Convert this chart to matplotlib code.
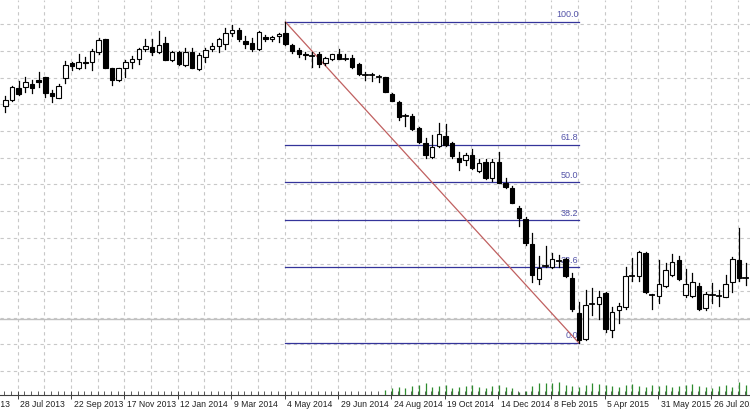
import numpy as np
import matplotlib
matplotlib.use("Agg")
import matplotlib.pyplot as plt
import matplotlib.transforms as mtransforms

# Weekly EURUSD candles, one per week starting 14 Jul 2013
opens = [1.3072, 1.3132, 1.3270, 1.3281, 1.3314, 1.3355, 1.3385, 1.3209, 1.3160, 1.3374,
         1.3539, 1.3484, 1.3556, 1.3556, 1.3666, 1.3803, 1.3484, 1.3355, 1.3484, 1.3550,
         1.3583, 1.3696, 1.3721, 1.3660, 1.3759, 1.3575, 1.3666, 1.3520, 1.3666, 1.3476,
         1.3605, 1.3696, 1.3732, 1.3748, 1.3869, 1.3905, 1.3784, 1.3765, 1.3693, 1.3825,
         1.3803, 1.3839, 1.3869, 1.3740, 1.3685, 1.3638, 1.3627, 1.3638, 1.3539, 1.3583,
         1.3638, 1.3594, 1.3594, 1.3528, 1.3413, 1.3410, 1.3396, 1.3385, 1.3198, 1.3116,
         1.2962, 1.2962, 1.2830, 1.2659, 1.2511, 1.2632, 1.2742, 1.2659, 1.2494, 1.2475,
         1.2530, 1.2357, 1.2456, 1.2274, 1.2456, 1.2219, 1.2164, 1.1944, 1.1823, 1.1551,
         1.1163, 1.1306, 1.1302, 1.1353, 1.1383, 1.1174, 1.0795, 1.0503, 1.0888, 1.0891,
         1.1009, 1.0605, 1.0825, 1.0855, 1.1196, 1.1199, 1.1449, 1.0987, 1.0979, 1.1089,
         1.1210, 1.1375, 1.0990, 1.0979, 1.1089, 1.0844, 1.0987, 1.0976, 1.0971, 1.1136,
         1.1375, 1.1169]
highs = [1.3182, 1.3289, 1.3344, 1.3391, 1.3355, 1.3446, 1.3391, 1.3245, 1.3308, 1.3564,
         1.3556, 1.3638, 1.3611, 1.3696, 1.3820, 1.3811, 1.3490, 1.3490, 1.3575, 1.3622,
         1.3710, 1.3806, 1.3803, 1.3894, 1.3825, 1.3674, 1.3677, 1.3704, 1.3710, 1.3649,
         1.3710, 1.3759, 1.3820, 1.3924, 1.3960, 1.3927, 1.3839, 1.3814, 1.3897, 1.3850,
         1.3842, 1.3875, 1.3993, 1.3748, 1.3704, 1.3660, 1.3666, 1.3660, 1.3611, 1.3641,
         1.3693, 1.3638, 1.3630, 1.3539, 1.3446, 1.3429, 1.3410, 1.3391, 1.3209, 1.3124,
         1.2978, 1.2978, 1.2841, 1.2714, 1.2750, 1.2879, 1.2868, 1.2676, 1.2566, 1.2555,
         1.2593, 1.2483, 1.2483, 1.2483, 1.2566, 1.2274, 1.2189, 1.1969, 1.1851, 1.1669,
         1.1419, 1.1529, 1.1449, 1.1430, 1.1394, 1.1235, 1.0916, 1.1045, 1.1064, 1.1037,
         1.1026, 1.0855, 1.0899, 1.1295, 1.1394, 1.1474, 1.1460, 1.1001, 1.1375, 1.1339,
         1.1438, 1.1419, 1.1273, 1.1229, 1.1125, 1.1026, 1.1119, 1.1045, 1.1210, 1.1405,
         1.1724, 1.1339]
lows = [1.2999, 1.3124, 1.3190, 1.3226, 1.3209, 1.3281, 1.3171, 1.3110, 1.3160, 1.3319,
        1.3465, 1.3476, 1.3484, 1.3465, 1.3641, 1.3484, 1.3300, 1.3347, 1.3391, 1.3490,
        1.3528, 1.3674, 1.3630, 1.3649, 1.3575, 1.3567, 1.3520, 1.3512, 1.3484, 1.3465,
        1.3556, 1.3677, 1.3663, 1.3696, 1.3842, 1.3784, 1.3707, 1.3674, 1.3685, 1.3787,
        1.3784, 1.3776, 1.3740, 1.3649, 1.3611, 1.3586, 1.3501, 1.3501, 1.3520, 1.3578,
        1.3583, 1.3578, 1.3490, 1.3410, 1.3355, 1.3347, 1.3336, 1.3220, 1.3124, 1.2915,
        1.2852, 1.2805, 1.2659, 1.2494, 1.2500, 1.2621, 1.2632, 1.2494, 1.2365, 1.2420,
        1.2376, 1.2346, 1.2263, 1.2247, 1.2219, 1.2164, 1.2000, 1.1749, 1.1540, 1.1136,
        1.1111, 1.1302, 1.1284, 1.1302, 1.1191, 1.0817, 1.0462, 1.0495, 1.0770, 1.0723,
        1.0586, 1.0531, 1.0685, 1.0833, 1.1144, 1.1144, 1.1015, 1.0833, 1.0899, 1.1082,
        1.1199, 1.1155, 1.0965, 1.0965, 1.0825, 1.0825, 1.0905, 1.0869, 1.0965, 1.1026,
        1.1147, 1.1100]
closes = [1.3135, 1.3275, 1.3198, 1.3336, 1.3270, 1.3330, 1.3215, 1.3179, 1.3289, 1.3520,
          1.3512, 1.3550, 1.3539, 1.3674, 1.3795, 1.3484, 1.3355, 1.3484, 1.3550, 1.3586,
          1.3696, 1.3732, 1.3660, 1.3740, 1.3575, 1.3666, 1.3531, 1.3666, 1.3484, 1.3630,
          1.3685, 1.3732, 1.3803, 1.3869, 1.3905, 1.3806, 1.3748, 1.3693, 1.3880, 1.3806,
          1.3825, 1.3864, 1.3748, 1.3677, 1.3638, 1.3625, 1.3622, 1.3528, 1.3600, 1.3638,
          1.3586, 1.3589, 1.3501, 1.3418, 1.3407, 1.3407, 1.3391, 1.3226, 1.3127, 1.2945,
          1.2956, 1.2816, 1.2670, 1.2530, 1.2621, 1.2758, 1.2640, 1.2519, 1.2456, 1.2530,
          1.2390, 1.2445, 1.2274, 1.2456, 1.2225, 1.2181, 1.2005, 1.1834, 1.1565, 1.1210,
          1.1284, 1.1312, 1.1383, 1.1361, 1.1199, 1.0833, 1.0495, 1.0880, 1.0894, 1.0971,
          1.0613, 1.0806, 1.0872, 1.1199, 1.1202, 1.1460, 1.1026, 1.0993, 1.1108, 1.1265,
          1.1350, 1.1163, 1.1108, 1.1136, 1.0833, 1.1001, 1.0993, 1.0982, 1.1108, 1.1386,
          1.1174, 1.1177]

# tick volume (only available from mid Aug 2014 on)
vol_start = 57
volumes = [30, 40, 50, 45, 55, 60, 70, 50, 55, 60, 45, 50, 55, 60, 50, 45, 55, 60, 50, 45,
           20, 25, 55, 70, 75, 70, 80, 60, 55, 50, 60, 70, 65, 60, 55, 50, 60, 65, 55, 50,
           60, 55, 60, 50, 55, 60, 65, 55, 50, 45, 55, 60, 50, 80, 60]

date_labels = ["2 Jun 2013", "28 Jul 2013", "22 Sep 2013", "17 Nov 2013", "12 Jan 2014",
               "9 Mar 2014", "4 May 2014", "29 Jun 2014", "24 Aug 2014", "19 Oct 2014",
               "14 Dec 2014", "8 Feb 2015", "5 Apr 2015", "31 May 2015", "26 Jul 2015"]

fib_levels = [0.0, 23.6, 38.2, 50.0, 61.8, 100.0]
fib_high = 1.3993
fib_low = 1.0462
fib_start = 42   # week of the high
fib_end = 86     # week of the low
marker_line = 1.0731

n = len(opens)
x = np.arange(n)

fig = plt.figure(figsize=(7.5, 4.09), dpi=100)
ax = fig.add_axes([0, 14 / 409, 1, 395 / 409])

# grid (fixed spacing like the terminal)
for gx in np.arange(-2.14, 112, 4):
    ax.axvline(gx, color="#c8c8c8", lw=0.8, ls=(0, (3, 3)), zorder=0)
for gy in 1.39677 - 0.029337 * np.arange(14):
    ax.axhline(gy, color="#c8c8c8", lw=0.8, ls=(0, (3, 3)), zorder=0)
ax.axhline(marker_line, color="#c0c0c0", lw=1.0, zorder=0.5)

# fibonacci retracement
rng = fib_high - fib_low
for lv in fib_levels:
    yv = fib_low + rng * lv / 100
    ax.plot([fib_start, fib_end], [yv, yv], color="#34349a", lw=0.9, zorder=1)
    ax.text(fib_end - 0.05, yv + 0.0030, f"{lv:.1f}", ha="right", va="bottom",
            fontsize=6.5, color="#5454a8", family="Liberation Sans", zorder=1)
ax.plot([fib_start, fib_end], [fib_high, fib_low], color="#c06060", lw=0.9, zorder=1)

# candles
bw = 0.66
for i in range(n):
    o, h, l, c = opens[i], highs[i], lows[i], closes[i]
    ax.plot([x[i], x[i]], [l, h], color="black", lw=0.9, zorder=3)
    top, bot = max(o, c), min(o, c)
    if top - bot < 0.0012:
        ax.plot([x[i] - bw / 2, x[i] + bw / 2], [c, c], color="black", lw=1.3, zorder=4)
        continue
    face = "white" if c > o else "black"
    ax.add_patch(plt.Rectangle((x[i] - bw / 2, bot), bw, top - bot, facecolor=face,
                               edgecolor="black", lw=0.8, zorder=4))

# x axis
for s in ["top", "left", "right"]:
    ax.spines[s].set_visible(False)
ax.spines["bottom"].set_color("#404040")
ax.spines["bottom"].set_linewidth(0.8)
ax.set_yticks([])
ax.set_xticks(np.arange(-6.14, 112, 8))
ax.set_xticks(np.arange(-0.14, 112, 1), minor=True)
ax.tick_params(axis="x", which="major", direction="inout", length=6, width=0.7,
               color="#404040", labelbottom=False)
ax.tick_params(axis="x", which="minor", direction="in", length=3, width=0.6, color="#404040")
ax.set_xlim(-0.795, 111.65)
ax.set_ylim(0.989, 1.4235)

# volume at the bottom
axv = ax.twinx()
axv.set_ylim(0, 2400)
axv.set_axis_off()
vx = np.arange(vol_start, vol_start + len(volumes))
axv.vlines(vx, 0, volumes, color="#2e8b2e", lw=0.9)
axv.set_xlim(-0.795, 111.65)

trans = mtransforms.blended_transform_factory(ax.transData, ax.transAxes)
for k, lab in enumerate(date_labels):
    ax.text(-6.14 + 8 * k + 0.4, -0.024, lab, transform=trans, ha="left", va="center",
            fontsize=6.2, color="#202020", family="Liberation Sans", clip_on=False)

fig.savefig("out.png", dpi=100, facecolor="white")
